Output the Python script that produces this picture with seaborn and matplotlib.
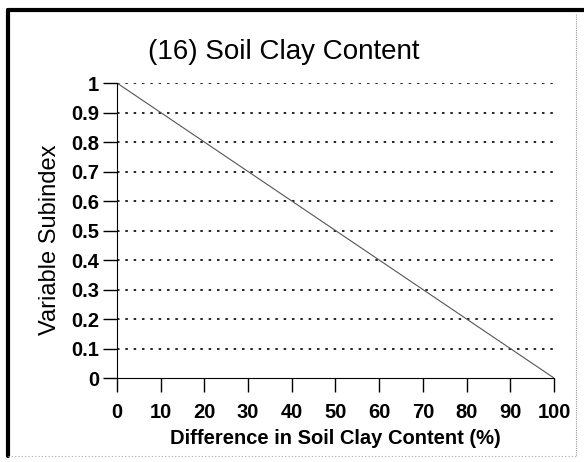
import matplotlib
matplotlib.use('Agg')
import matplotlib.pyplot as plt
import seaborn as sns
import pandas as pd
from matplotlib.lines import Line2D

# data
clay_diff = [0, 100]
subindex = [1.0, 0.0]
x_ticks = [0, 10, 20, 30, 40, 50, 60, 70, 80, 90, 100]
y_ticks = [0, 0.1, 0.2, 0.3, 0.4, 0.5, 0.6, 0.7, 0.8, 0.9, 1]
y_labels = ['0', '0.1', '0.2', '0.3', '0.4', '0.5', '0.6', '0.7', '0.8', '0.9', '1']

sns.set_style('ticks')
plt.rcParams['font.family'] = ['Liberation Sans', 'DejaVu Sans']
plt.rcParams['text.color'] = 'black'
plt.rcParams['axes.labelcolor'] = 'black'

df = pd.DataFrame({'diff': clay_diff, 'sub': subindex})

fig = plt.figure(figsize=(5.84, 4.62), dpi=100)
ax = fig.add_axes([0.2003, 0.1818, 0.7483, 0.6385])

sns.lineplot(x='diff', y='sub', data=df, ax=ax, color='#555555', linewidth=0.8)

ax.set_xlim(0, 100)
ax.set_ylim(0, 1)
ax.set_xticks(x_ticks)
ax.set_yticks(y_ticks)
ax.set_yticklabels(y_labels)
ax.tick_params(axis='x', which='major', direction='out', length=10, width=1.0, color='black',
               labelcolor='black', labelsize=14.5, pad=8, bottom=True)
ax.tick_params(axis='y', which='major', direction='out', length=10, width=1.0, color='black',
               labelcolor='black', labelsize=14.5, pad=3, left=True)

# dotted horizontal guides
for y in y_ticks[1:]:
    ax.axhline(y, color='black', linestyle=(0, (1.5, 3.5)), linewidth=1.2, zorder=0.5)

ax.spines['top'].set_visible(False)
ax.spines['right'].set_visible(False)
for s in ['left', 'bottom']:
    ax.spines[s].set_color('black')

for lab in ax.get_xticklabels() + ax.get_yticklabels():
    lab.set_fontweight('bold')

ax.set_xlabel('Difference in Soil Clay Content (%)', fontsize=14.5, fontweight='bold', labelpad=5)
ax.set_ylabel('Variable Subindex', fontsize=17)
ax.yaxis.set_label_coords(-0.128, 0.47)
fig.text(284 / 584, 1 - 52 / 462, '(16) Soil Clay Content', fontsize=20, ha='center', va='center')

# outer frame
fig.add_artist(Line2D([8 / 584, 584 / 584], [1 - 10 / 462, 1 - 10 / 462], transform=fig.transFigure,
                      color='black', linewidth=3))
fig.add_artist(Line2D([8 / 584, 8 / 584], [1 - 10 / 462, 1 - 456 / 462], transform=fig.transFigure,
                      color='black', linewidth=3))
fig.add_artist(Line2D([576 / 584, 576 / 584], [1 - 14 / 462, 1 - 456 / 462], transform=fig.transFigure,
                      color='#999999', linewidth=0.8, linestyle=(0, (1, 1))))
fig.add_artist(Line2D([8 / 584, 576 / 584], [1 - 456 / 462, 1 - 456 / 462], transform=fig.transFigure,
                      color='#aaaaaa', linewidth=0.8, linestyle=(0, (1, 2))))

fig.savefig('out.png', dpi=100)
